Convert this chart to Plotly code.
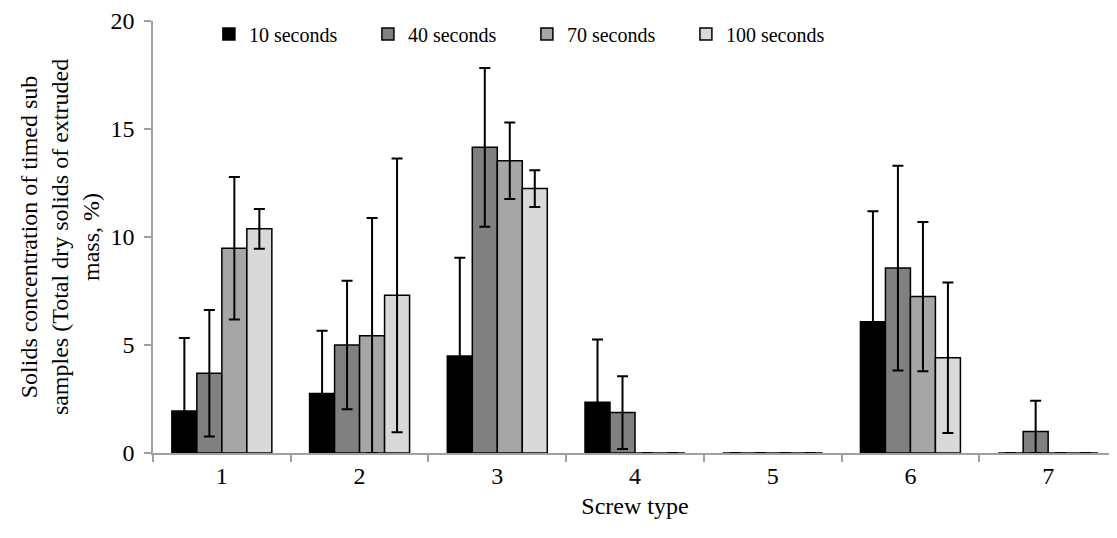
import plotly.graph_objects as go

screw_types = ["1", "2", "3", "4", "5", "6", "7"]
series_names = ["10 seconds", "40 seconds", "70 seconds", "100 seconds"]

vals_10 = [1.94, 2.76, 4.49, 2.35, 0, 6.08, 0]
err_10 = [3.38, 2.90, 4.55, 2.91, 0, 5.11, 0]

vals_40 = [3.69, 5.00, 14.15, 1.87, 0, 8.56, 0.99]
err_40 = [2.93, 2.98, 3.67, 1.68, 0, 4.74, 1.43]

vals_70 = [9.48, 5.43, 13.53, 0, 0, 7.24, 0]
err_70 = [3.30, 5.45, 1.77, 0, 0, 3.45, 0]

vals_100 = [10.38, 7.30, 12.24, 0, 0, 4.41, 0]
err_100 = [0.92, 6.34, 0.85, 0, 0, 3.48, 0]

colors = ["#000000", "#808080", "#a6a6a6", "#d9d9d9"]

fig = go.Figure()
for name, v, e, c in zip(series_names,
                         [vals_10, vals_40, vals_70, vals_100],
                         [err_10, err_40, err_70, err_100],
                         colors):
    fig.add_trace(go.Bar(
        x=screw_types, y=v, name=name,
        marker=dict(color=c, line=dict(color="#000000", width=1.5)),
        error_y=dict(type="data", array=e,
                     arrayminus=[min(a, b) for a, b in zip(e, v)],
                     color="#000000", thickness=2, width=5.5, visible=True),
    ))

font_family = "Liberation Serif, Times New Roman, serif"
fig.update_layout(
    width=1109, height=530,
    margin=dict(l=145, r=0, t=13, b=85),
    paper_bgcolor="white", plot_bgcolor="white",
    barmode="group", bargap=0.274, bargroupgap=0,
    font=dict(family=font_family, size=24, color="#000000"),
    showlegend=True,
    legend=dict(orientation="h", x=0.058, xanchor="left", y=1.015, yanchor="top",
                bgcolor="rgba(0,0,0,0)", entrywidth=114, itemwidth=30,
                font=dict(family=font_family, size=20)),
    xaxis=dict(
        title=dict(text="Screw type", font=dict(size=24), standoff=10),
        automargin=False,
        showline=True, linecolor="#a0a0a0", linewidth=1.5,
        ticks="outside", tickson="boundaries", ticklen=7, tickcolor="#a0a0a0",
        tickwidth=1.5, tickfont=dict(size=24), showgrid=False,
    ),
    yaxis=dict(
        title=dict(text="Solids concentration of timed sub<br>samples (Total dry solids of extruded<br>mass, %)",
                   font=dict(size=24), standoff=4),
        automargin=False,
        range=[0, 20], tickvals=[0, 5, 10, 15, 20],
        showline=True, linecolor="#a0a0a0", linewidth=1.5,
        ticks="outside", ticklen=7, tickcolor="#a0a0a0", tickwidth=1.5,
        ticklabelstandoff=5,
        tickfont=dict(size=24), showgrid=False, zeroline=False,
    ),
)

fig.write_html("out.html")
